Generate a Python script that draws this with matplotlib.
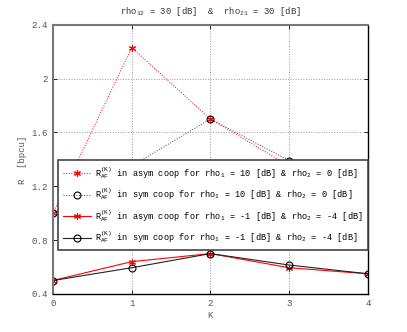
import matplotlib
matplotlib.use('Agg')
from matplotlib import pyplot as plt

plt.rcParams['font.family'] = ['Liberation Mono', 'DejaVu Sans Mono']
plt.rcParams['mathtext.default'] = 'regular'
plt.rcParams['font.size'] = 6.4

K = [0, 1, 2, 3, 4]
asym_high = [1.0, 2.23, 1.7, 1.35, 1.15]
sym_high = [1.0, 1.35, 1.7, 1.39, 1.15]
asym_low = [0.5, 0.64, 0.7, 0.595, 0.55]
sym_low = [0.5, 0.595, 0.7, 0.615, 0.55]
yticks = [0.4, 0.8, 1.2, 1.6, 2.0, 2.4]
ytick_labels = ['0.4', '0.8', '1.2', '1.6', '2', '2.4']

labels = [
    'R$_{AF}^{(K)}$ in asym coop for rho$_1$ = 10 [dB] & rho$_2$ = 0 [dB]',
    'R$_{AF}^{(K)}$ in sym coop for rho$_1$ = 10 [dB] & rho$_2$ = 0 [dB]',
    'R$_{AF}^{(K)}$ in asym coop for rho$_1$ = -1 [dB] & rho$_2$ = -4 [dB]',
    'R$_{AF}^{(K)}$ in sym coop for rho$_1$ = -1 [dB] & rho$_2$ = -4 [dB]',
]

asterisk = (6, 2, 0)

fig = plt.figure(figsize=(4.07, 3.32), dpi=100)
ax = fig.add_axes([0.130, 0.1145, 0.774, 0.811])

ax.plot(K, asym_high, color='red', linestyle=':', linewidth=0.7, marker=asterisk,
        markersize=5, markeredgewidth=0.8, label=labels[0])
ax.plot(K, sym_high, color='#444444', linestyle=':', linewidth=0.7, marker='o',
        markersize=5, markerfacecolor='none', markeredgecolor='black', markeredgewidth=0.8,
        label=labels[1])
ax.plot(K, asym_low, color='red', linestyle='-', linewidth=0.8, marker=asterisk,
        markersize=5, markeredgewidth=0.8, label=labels[2])
ax.plot(K, sym_low, color='#222222', linestyle='-', linewidth=0.8, marker='o',
        markersize=5, markerfacecolor='none', markeredgecolor='black', markeredgewidth=0.8,
        label=labels[3])

ax.set_xlim(0, 4)
ax.set_ylim(0.4, 2.4)
ax.set_xticks(K)
ax.set_yticks(yticks)
ax.set_yticklabels(ytick_labels)
ax.grid(True, linestyle=':', color='#999999', linewidth=0.7)
ax.tick_params(direction='in', length=3, top=True, right=True, colors='black',
               labelcolor='#555555', labelsize=6.6, width=0.6)

for side in ['left', 'top']:
    ax.spines[side].set_color('#777777')
    ax.spines[side].set_linewidth(1.5)
for side in ['right', 'bottom']:
    ax.spines[side].set_color('black')
    ax.spines[side].set_linewidth(1.0)

ax.set_title('rho$_{12}$ = 30 [dB]  &  rho$_{21}$ = 30 [dB]', fontsize=6.4, color='#333333', pad=8)
ax.set_xlabel('K', color='#555555', labelpad=2)
ax.set_ylabel('R  [bpcu]', color='#555555', labelpad=3)

leg = ax.legend(loc='upper right', bbox_to_anchor=(1.0, 0.4976), fontsize=6.2,
                fancybox=False, framealpha=1, edgecolor='#444444', handlelength=3.2,
                handletextpad=0.5, labelspacing=0.68, borderpad=0.6, borderaxespad=0)
leg.get_frame().set_linewidth(1.2)

fig.savefig('out.png', dpi=100)
